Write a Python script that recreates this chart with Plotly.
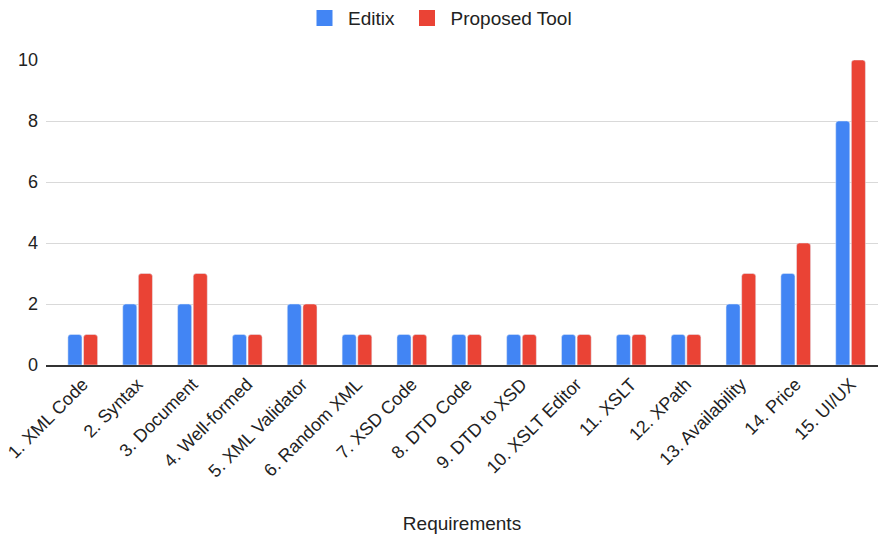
import plotly.graph_objects as go

categories = ["1. XML Code", "2. Syntax", "3. Document", "4. Well-formed", "5. XML Validator",
              "6. Random XML", "7. XSD Code", "8. DTD Code", "9. DTD to XSD", "10. XSLT Editor",
              "11. XSLT", "12. XPath", "13. Availability", "14. Price", "15. UI/UX"]
editix = [1, 2, 2, 1, 2, 1, 1, 1, 1, 1, 1, 1, 2, 3, 8]
proposed = [1, 3, 3, 1, 2, 1, 1, 1, 1, 1, 1, 1, 3, 4, 10]
y_ticks = [0, 2, 4, 6, 8, 10]
series_names = ["Editix", "Proposed Tool"]
colors = ["#4285F4", "#EA4335"]

fig = go.Figure()
for name, vals, col in zip(series_names, [editix, proposed], colors):
    fig.add_trace(go.Bar(name=name, x=categories, y=vals, marker_color=col, showlegend=False))
# legend entries with larger square swatches, each in its own legend box
for name, col, lg in zip(series_names, colors, ["legend", "legend2"]):
    fig.add_trace(go.Scatter(name=name, x=[None], y=[None], mode="markers", legend=lg,
                             marker=dict(symbol="square", size=17, color=col), showlegend=True))

font = "Liberation Sans, Arial, sans-serif"
legend_common = dict(orientation="h", xref="container", xanchor="left",
                     yref="container", y=0.966, yanchor="middle", itemsizing="trace",
                     font=dict(size=19, color="#222222"), itemwidth=37,
                     bgcolor="rgba(0,0,0,0)")
fig.update_layout(
    width=878, height=534,
    margin=dict(l=46, r=0, t=60, b=169, autoexpand=False),
    paper_bgcolor="white", plot_bgcolor="white",
    barmode="group", bargap=0.43, bargroupgap=0.1, barcornerradius=3,
    font=dict(family=font, size=19, color="#222222"),
    legend=dict(x=301 / 878, **legend_common),
    legend2=dict(x=403.5 / 878, **legend_common),
    xaxis=dict(tickangle=-45, range=[-0.67, 14.5], showline=True, linecolor="#333333",
               linewidth=1.5, ticks="", showgrid=False, automargin=False,
               title=dict(text="Requirements", font=dict(size=19, color="#222222"), standoff=60),
               tickfont=dict(size=18, color="#222222")),
    yaxis=dict(range=[0, 10], tickvals=y_ticks, gridcolor="#d9d9d9", zeroline=False,
               automargin=False,
               ticks="", ticklabelstandoff=7, tickfont=dict(size=18, color="#222222")),
)
fig.write_html("out.html")
